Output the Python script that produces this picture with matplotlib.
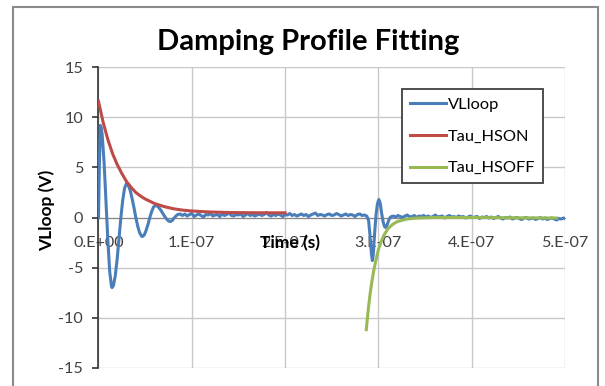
import numpy as np
import matplotlib
matplotlib.use('Agg')
import matplotlib.pyplot as plt
from matplotlib.patches import Rectangle

plt.rcParams['font.family'] = ['Lato', 'DejaVu Sans']
plt.rcParams['axes.unicode_minus'] = False

## data (time in ns, voltage in V)
# VLloop: ringing after switch-on
t_ring = [0, 1, 2, 3, 4, 6, 8, 10, 12, 14, 14.6, 16, 18, 20, 22, 24, 26, 28, 30,
          32, 34, 36, 38, 40, 42, 44, 46, 47, 49, 51, 53, 55, 57, 59, 61,
          63, 65, 67, 69, 71, 73, 75, 77, 79, 81, 83, 85, 87.5]
v_ring = [0.0, 5.5, 9.2, 8.95, 8.2, 5.5, 1.7, -2.2, -5.4, -6.9, -7.0, -6.8, -5.8,
          -4.15, -2.1, 0.0, 1.75, 2.95, 3.4, 3.2, 2.7, 1.9, 1.0, 0.0, -0.85,
          -1.5, -1.85, -1.9, -1.75, -1.3, -0.7, 0.0, 0.6, 1.05, 1.2, 1.15,
          0.95, 0.7, 0.4, 0.1, -0.15, -0.35, -0.4, -0.3, -0.05, 0.15, 0.3, 0.35]
# VLloop: flat part before switch-off (2.5 ns steps from 90 ns)
v_flat1 = [0.20, 0.35, 0.15, 0.30, 0.40, 0.10, 0.25, 0.35, 0.20, 0.05,
           0.30, 0.25, 0.40, 0.15, 0.25, 0.30, 0.10, 0.35, 0.20, 0.30,
           0.45, 0.20, 0.15, 0.30, 0.25, 0.35, 0.10, 0.25, 0.40, 0.20,
           0.30, 0.15, 0.25, 0.35, 0.20, 0.30, 0.50, 0.25, 0.15, 0.30,
           0.20, 0.35, 0.25, 0.10, 0.30, 0.25, 0.40, 0.20, 0.30, 0.15,
           0.25, 0.35, 0.20, 0.30, 0.10, 0.25, 0.35, 0.45, 0.20, 0.30,
           0.25, 0.15, 0.30, 0.35, 0.20, 0.25, 0.40, 0.30, 0.15, 0.25,
           0.35, 0.20, 0.30, 0.25, 0.10, 0.30, 0.35, 0.20, 0.25, 0.15]
# VLloop: switch-off glitch
t_glitch = [289.5, 291, 292.5, 293.5, 294.5, 296, 297.5, 299, 300.5, 302,
            303.5, 305, 306.5, 308, 309.5, 311, 312.5, 314]
v_glitch = [-0.3, -1.8, -3.6, -4.3, -3.7, -1.5, 0.3, 1.4, 1.8, 1.4,
            0.4, -0.4, -0.9, -1.0, -0.7, -0.3, 0.0, 0.1]
# VLloop: flat tail (2.5 ns steps from 316 ns)
v_flat2 = [0.15, 0.05, 0.20, 0.10, 0.00, 0.15, 0.25, 0.05, 0.10, 0.20,
           0.00, 0.15, 0.10, 0.20, 0.05, 0.15, 0.00, 0.10, 0.25, 0.05,
           0.10, 0.15, -0.05, 0.10, 0.20, 0.05, 0.10, 0.00, 0.15, 0.05,
           0.10, -0.05, 0.05, 0.15, 0.00, 0.05, 0.10, -0.10, 0.05, 0.00,
           0.10, -0.05, 0.05, -0.10, 0.00, 0.10, -0.05, -0.15, 0.00, -0.05,
           0.05, -0.15, -0.05, 0.00, -0.10, -0.20, -0.05, 0.00, -0.15, -0.10,
           -0.05, -0.20, -0.10, 0.00, -0.15, -0.05, -0.20, -0.10, -0.05, -0.15,
           -0.25, -0.10, -0.15, -0.05, -0.15]

# fits
t_on = [0, 5, 10, 15, 20, 25, 30, 35, 40, 45, 50, 60, 70, 80, 90, 100,
        120, 140, 160, 180, 200]
v_on = [11.6, 9.5, 7.8, 6.4, 5.3, 4.4, 3.6, 3.0, 2.5, 2.15, 1.85, 1.4, 1.1,
        0.88, 0.74, 0.65, 0.55, 0.5, 0.48, 0.47, 0.47]
t_off = [287, 289, 291, 293, 295, 297, 300, 303, 306, 310, 315, 320, 330,
         340, 360, 400, 450, 491]
v_off = [-11.2, -9.3, -7.7, -6.4, -5.3, -4.4, -3.2, -2.4, -1.75, -1.15, -0.7,
         -0.42, -0.16, -0.06, 0.0, 0.0, -0.03, -0.05]

xticks = [0, 1e-7, 2e-7, 3e-7, 4e-7, 5e-7]
xlabels = ['0.E+00', '1.E-07', '2.E-07', '3.E-07', '4.E-07', '5.E-07']

t_flat1 = 90 + 2.5 * np.arange(len(v_flat1))
t_flat2 = 316 + 2.5 * np.arange(len(v_flat2))
t_vl = np.concatenate([t_ring, t_flat1, t_glitch, t_flat2]) * 1e-9
v_vl = np.concatenate([v_ring, v_flat1, v_glitch, v_flat2])

fig = plt.figure(figsize=(6.05, 3.86), dpi=100)
ax = fig.add_axes([0.1628, 0.0474, 0.7711, 0.7782])

ax.plot(t_vl, v_vl, color='#4A7EBB', lw=2.2, label='VLloop', zorder=3)
ax.plot(np.array(t_on) * 1e-9, v_on, color='#BE4B48', lw=2.2, label='Tau_HSON', zorder=4)
ax.plot(np.array(t_off) * 1e-9, v_off, color='#98B954', lw=2.2, label='Tau_HSOFF', zorder=4)

ax.set_xlim(0, 5e-7)
ax.set_ylim(-15, 15)
ax.set_yticks([-15, -10, -5, 0, 5, 10, 15])
ax.set_xticks(xticks)
ax.set_xticklabels(xlabels)
ax.grid(True, color='#c8c8c8', lw=1)
ax.set_axisbelow(True)

for s in ['top', 'right']:
    ax.spines[s].set_visible(False)
ax.spines['left'].set_color('#333333')
ax.spines['left'].set_linewidth(1.2)
ax.spines['bottom'].set_position(('data', 0))
ax.spines['bottom'].set_color('#868686')
ax.tick_params(axis='y', direction='out', length=4, width=1.2, color='#333333',
               labelsize=11.6, labelcolor='#404040', pad=7)
ax.tick_params(axis='x', length=0, labelsize=11.6, labelcolor='#404040', pad=13)

ax.text(0.41, 0.415, 'Time (s)', transform=ax.transAxes, ha='center', va='center',
        fontsize=12.5, fontweight='bold')
fig.text(47 / 605, 1 - 210 / 386, 'VLloop (V)', rotation=90, ha='center', va='center',
         fontsize=12.5, fontweight='bold')
fig.text(308 / 605, 1 - 42 / 386, 'Damping Profile Fitting', ha='center', va='center',
         fontsize=21, fontweight='bold')

leg = ax.legend(loc='upper left', bbox_to_anchor=(0.65, 0.927), fontsize=11.8,
                fancybox=False, framealpha=1, edgecolor='#404040',
                handlelength=2.2, handletextpad=0.1, labelspacing=1.05,
                borderpad=0.5, borderaxespad=0)
leg.get_frame().set_linewidth(1.3)

fig.patches.append(Rectangle((12.7 / 605, -0.05), (598.3 - 12.7) / 605,
                             1.05 - 6.7 / 386, transform=fig.transFigure,
                             fill=False, edgecolor='#8a8a8a', lw=1.5))

fig.savefig('out.png', dpi=100)
